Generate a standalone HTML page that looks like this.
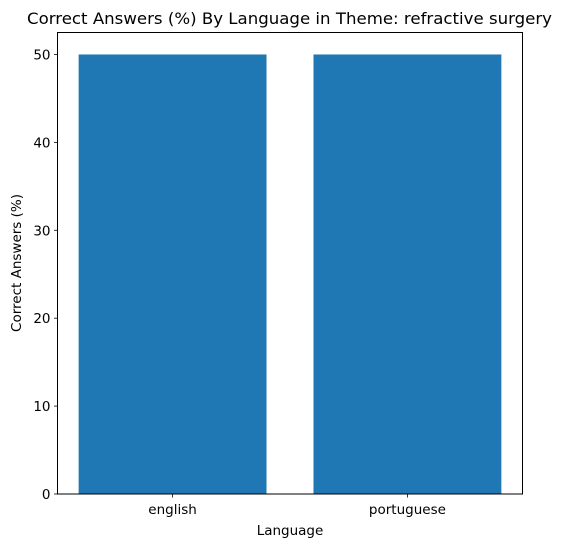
<!DOCTYPE html>
<html><head><meta charset="utf-8"><style>
body{margin:0;background:#fff;font-family:"Liberation Sans","DejaVu Sans",sans-serif}
</style></head><body>
<svg id="chart" width="562" height="547" xmlns="http://www.w3.org/2000/svg" font-family="DejaVu Sans, Liberation Sans, sans-serif">
<rect width="562" height="547" fill="#fff"/>
<text x="289.5" y="24" font-size="16" text-anchor="middle" textLength="525" lengthAdjust="spacingAndGlyphs" fill="#000">Correct Answers (%) By Language in Theme: refractive surgery</text>
<g id="bars"></g><g id="axes"></g>
<text x="290" y="535" font-size="13.5" text-anchor="middle">Language</text>
<text transform="translate(21,263) rotate(-90)" font-size="13.5" text-anchor="middle">Correct Answers (%)</text>
</svg>
<script>
const categories=["english","portuguese"];
const values=[50,50];
const yTicks=[0,10,20,30,40,50];
const L=57.5,R=522.5,T=32.5,B=494;
const xmin=-0.49,xmax=1.49,ymax=52.5;
const x=v=>L+(v-xmin)/(xmax-xmin)*(R-L);
const y=v=>B-v/ymax*(B-T);
const ns="http://www.w3.org/2000/svg";
const bars=document.getElementById('bars'),axes=document.getElementById('axes');
function mk(tag,attrs,parent){const e=document.createElementNS(ns,tag);for(const k in attrs)e.setAttribute(k,attrs[k]);parent.appendChild(e);return e;}
values.forEach((v,i)=>{
 const r=mk('rect',{x:x(i-0.4),y:y(v),width:x(i+0.4)-x(i-0.4),height:B-y(v),fill:'#1f77b4'},bars);
 
 
 mk('line',{x1:x(i),x2:x(i),y1:B,y2:B+3.5,stroke:'#000','stroke-width':0.8},axes);
 const t=mk('text',{x:x(i),y:B+20,'font-size':13.5,'text-anchor':'middle'},axes);t.textContent=categories[i];
 
 
});
yTicks.forEach(v=>{
 mk('line',{x1:L-3.5,x2:L,y1:y(v),y2:y(v),stroke:'#000','stroke-width':0.8},axes);
 const t=mk('text',{x:L-7,y:y(v)+5,'font-size':13.5,'text-anchor':'end'},axes);t.textContent=v;
 
 
});
const f=mk('rect',{x:L,y:T,width:R-L,height:B-T,fill:'none',stroke:'#000','stroke-width':1},axes);


</script>
</body></html>
